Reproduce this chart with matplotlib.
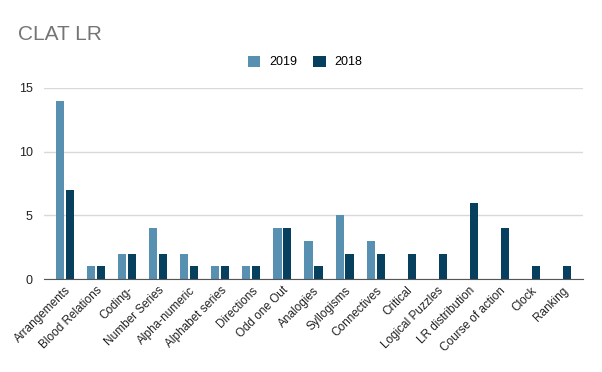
import matplotlib
matplotlib.use("Agg")
import matplotlib.pyplot as plt
import numpy as np

categories = ["Arrangements", "Blood Relations", "Coding-", "Number Series", "Alpha-numeric",
              "Alphabet series", "Directions", "Odd one Out", "Analogies", "Syllogisms",
              "Connectives", "Critical", "Logical Puzzles", "LR distribution",
              "Course of action", "Clock", "Ranking"]
v2019 = [14, 1, 2, 4, 2, 1, 1, 4, 3, 5, 3, 0, 0, 0, 0, 0, 0]
v2018 = [7, 1, 2, 2, 1, 1, 1, 4, 1, 2, 2, 2, 2, 6, 4, 1, 1]
yticks = [0, 5, 10, 15]

plt.rcParams['font.family'] = ['Liberation Sans', 'DejaVu Sans']

fig = plt.figure(figsize=(6.02, 3.72), dpi=100)
ax = fig.add_axes([44/602, (372-279)/372, (583-44)/602, (279-88)/372])

x = np.arange(len(categories))
w = 0.26
c19 = "#5790b1"
c18 = "#07405e"
ax.bar(x - 0.16, v2019, w, color=c19, label="2019", zorder=3)
ax.bar(x + 0.16, v2018, w, color=c18, label="2018", zorder=3)

ax.set_xlim(-0.68, 16.68)
ax.set_ylim(0, 15)
ax.set_yticks(yticks)
ax.set_yticklabels([str(t) for t in yticks], fontsize=9, color="#222222")
ax.yaxis.grid(True, color="#d9d9d9", linewidth=1, zorder=0)
ax.tick_params(axis='y', length=0, pad=8)
ax.set_xticks(x)
ax.set_xticklabels(categories, rotation=45, ha="right", rotation_mode="anchor",
                   fontsize=8.5, color="#222222")
ax.tick_params(axis='x', length=0, pad=4)
for s in ["top", "right", "left"]:
    ax.spines[s].set_visible(False)
ax.spines["bottom"].set_color("#555555")
ax.spines["bottom"].set_zorder(4)

fig.text(18/602, 1 - 35/372, "CLAT LR", fontsize=15, color="#757575", va="center", ha="left")

leg = fig.legend(loc="center", bbox_to_anchor=(305/602, 1 - 62/372), ncol=2, frameon=False,
                 fontsize=9, handlelength=1.0, handleheight=1.0, columnspacing=1.3,
                 handletextpad=0.7)

fig.savefig("out.png", dpi=100, facecolor="white")
